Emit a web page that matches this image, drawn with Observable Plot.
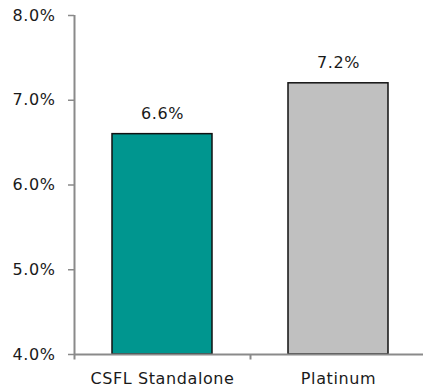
<!DOCTYPE html>
<html>
<head>
<meta charset="utf-8">
<script src="https://cdn.jsdelivr.net/npm/d3@7"></script>
<script src="https://cdn.jsdelivr.net/npm/@observablehq/plot@0.6"></script>
<style>
  html, body { margin: 0; padding: 0; background: #fff; }
</style>
</head>
<body>
<div id="chart"></div>
<script>
const categories = ["CSFL Standalone", "Platinum"];
const values = [6.6, 7.2];
const barColors = ["#00968f", "#c0c0c0"];
const yTicks = [4, 5, 6, 7, 8];

const data = categories.map((c, i) => ({category: c, value: values[i], color: barColors[i]}));
const axisColor = "#8a8a8a";
const halfStep = 88;

const chart = Plot.plot({
  width: 423,
  height: 390,
  marginLeft: 74,
  marginRight: 0,
  marginTop: 15,
  marginBottom: 36,
  style: {fontFamily: "'DejaVu Sans', Verdana, sans-serif", fontSize: "16px", letterSpacing: "0.6px", color: "#1a1a1a", background: "#fff"},
  x: {domain: categories, range: [74, 426], paddingInner: 0.432, paddingOuter: 0.216, label: null},
  y: {domain: [4, 8], label: null},
  marks: [
    Plot.barY(data, {x: "category", y1: 4, y2: "value", fill: "color", stroke: "#111", strokeWidth: 1.5}),
    Plot.ruleY([4], {stroke: axisColor, strokeWidth: 2}),
    Plot.ruleX([categories[0]], {x: d => d, y1: 4, y2: 8, dx: -halfStep, stroke: axisColor, strokeWidth: 2}),
    Plot.ruleX(categories, {x: d => d, y1: 3.935, y2: 4, dx: -halfStep, stroke: axisColor, strokeWidth: 2}),
    Plot.axisY({ticks: yTicks, tickSize: 6, tickPadding: 13, tickFormat: d => d.toFixed(1) + "%", stroke: axisColor, strokeWidth: 1.5, fill: "#1a1a1a"}),
    Plot.axisX({tickSize: 0, tickPadding: 18, fill: "#1a1a1a"}),
    Plot.text(data, {x: "category", y: "value", text: d => d.value.toFixed(1) + "%", dy: -20, fill: "#1a1a1a"})
  ]
});
document.getElementById("chart").appendChild(chart);
</script>
</body>
</html>
